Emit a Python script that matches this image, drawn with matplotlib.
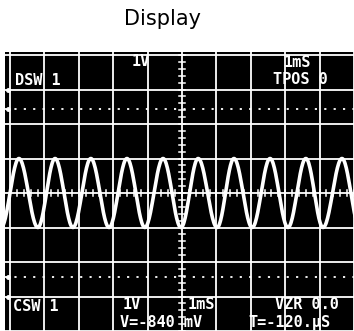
import numpy as np
import matplotlib
matplotlib.use('Agg')
import matplotlib.pyplot as plt

# trace, in divisions (x: 1mS/div, y: 1V/div)
peak_times = [0.26, 1.31, 2.35, 3.40, 4.45, 5.47, 6.51, 7.56, 8.60, 9.65]
trough_times = [-0.26, 0.81, 1.83, 2.88, 3.92, 4.97, 6.02, 7.04, 8.08, 9.10, 10.17]
peak_level = 1.0
trough_level = -1.0
cursor_levels = [2.43, -2.43]

top_labels = ['DSW 1', '1V', '1mS', 'TPOS 0']
bottom_labels = ['CSW 1', '1V', '1mS', 'VZR 0.0', 'V=-840 mV', 'T=-120.\u00b5S']

def build_trace():
  ext = sorted([(t, peak_level) for t in peak_times] + [(t, trough_level) for t in trough_times])
  xs, ys = [], []
  for (ta, va), (tb, vb) in zip(ext[:-1], ext[1:]):
    s = np.linspace(0, 1, 30)
    xs.append(ta + (tb - ta) * s)
    ys.append((va + vb) / 2 + (va - vb) / 2 * np.cos(np.pi * s))
  return np.concatenate(xs), np.concatenate(ys)

if __name__ == "__main__":
  fig = plt.figure(figsize=(3.54, 3.31), dpi=100)
  fig.patch.set_facecolor('white')
  ax = fig.add_axes([5/354, 0, 349/354, 279/331])
  ax.set_facecolor('black')
  ax.set_xlim(-0.145, 10)
  ax.set_ylim(-4, 4.087)
  ax.set_xticks([]); ax.set_yticks([])
  for s in ax.spines.values():
    s.set_visible(False)

  # graticule
  for gx in range(11):
    ax.axvline(gx, color='white', lw=1.3, zorder=1)
  for gy in range(-4, 5):
    ax.axhline(gy, color='white', lw=1.3, zorder=1)
  for v in np.arange(-4, 4.01, 0.2):
    ax.plot([4.92, 5.08], [v, v], color='white', lw=1.1, zorder=1)
  for v in np.arange(0, 10.01, 0.2):
    ax.plot([v, v], [-0.08, 0.08], color='white', lw=1.1, zorder=1)
  for c in cursor_levels:
    ax.axhline(c, color='white', lw=1.3, ls=(0, (1.2, 4.0)), zorder=1)
  for my in [3.0, 2.43, -2.43, -3.0]:
    ax.plot([-0.07], [my], marker='o', ms=2.5, color='white', zorder=2)

  tx, ty = build_trace()
  ax.plot(tx, ty, color='white', lw=2.6, zorder=3)

  font = dict(family='DejaVu Sans Mono', weight='bold', size=11, color='white', va='center', ha='left')
  top_pos = [(0.15, 3.25), (3.55, 3.81), (7.94, 3.78), (7.65, 3.28)]
  for lab, (x, y) in zip(top_labels, top_pos):
    ax.text(x, y, lab, zorder=4, **font)
  bottom_pos = [(0.09, -3.30), (3.26, -3.22), (5.17, -3.22), (7.70, -3.22), (3.20, -3.74), (6.92, -3.74)]
  for lab, (x, y) in zip(bottom_labels, bottom_pos):
    ax.text(x, y, lab, zorder=4, **font)

  fig.text(162/354, 1 - 25/331, 'Display', ha='center', va='baseline', fontsize=15, color='black')

  plt.savefig('out.png', format='png', dpi=100)
